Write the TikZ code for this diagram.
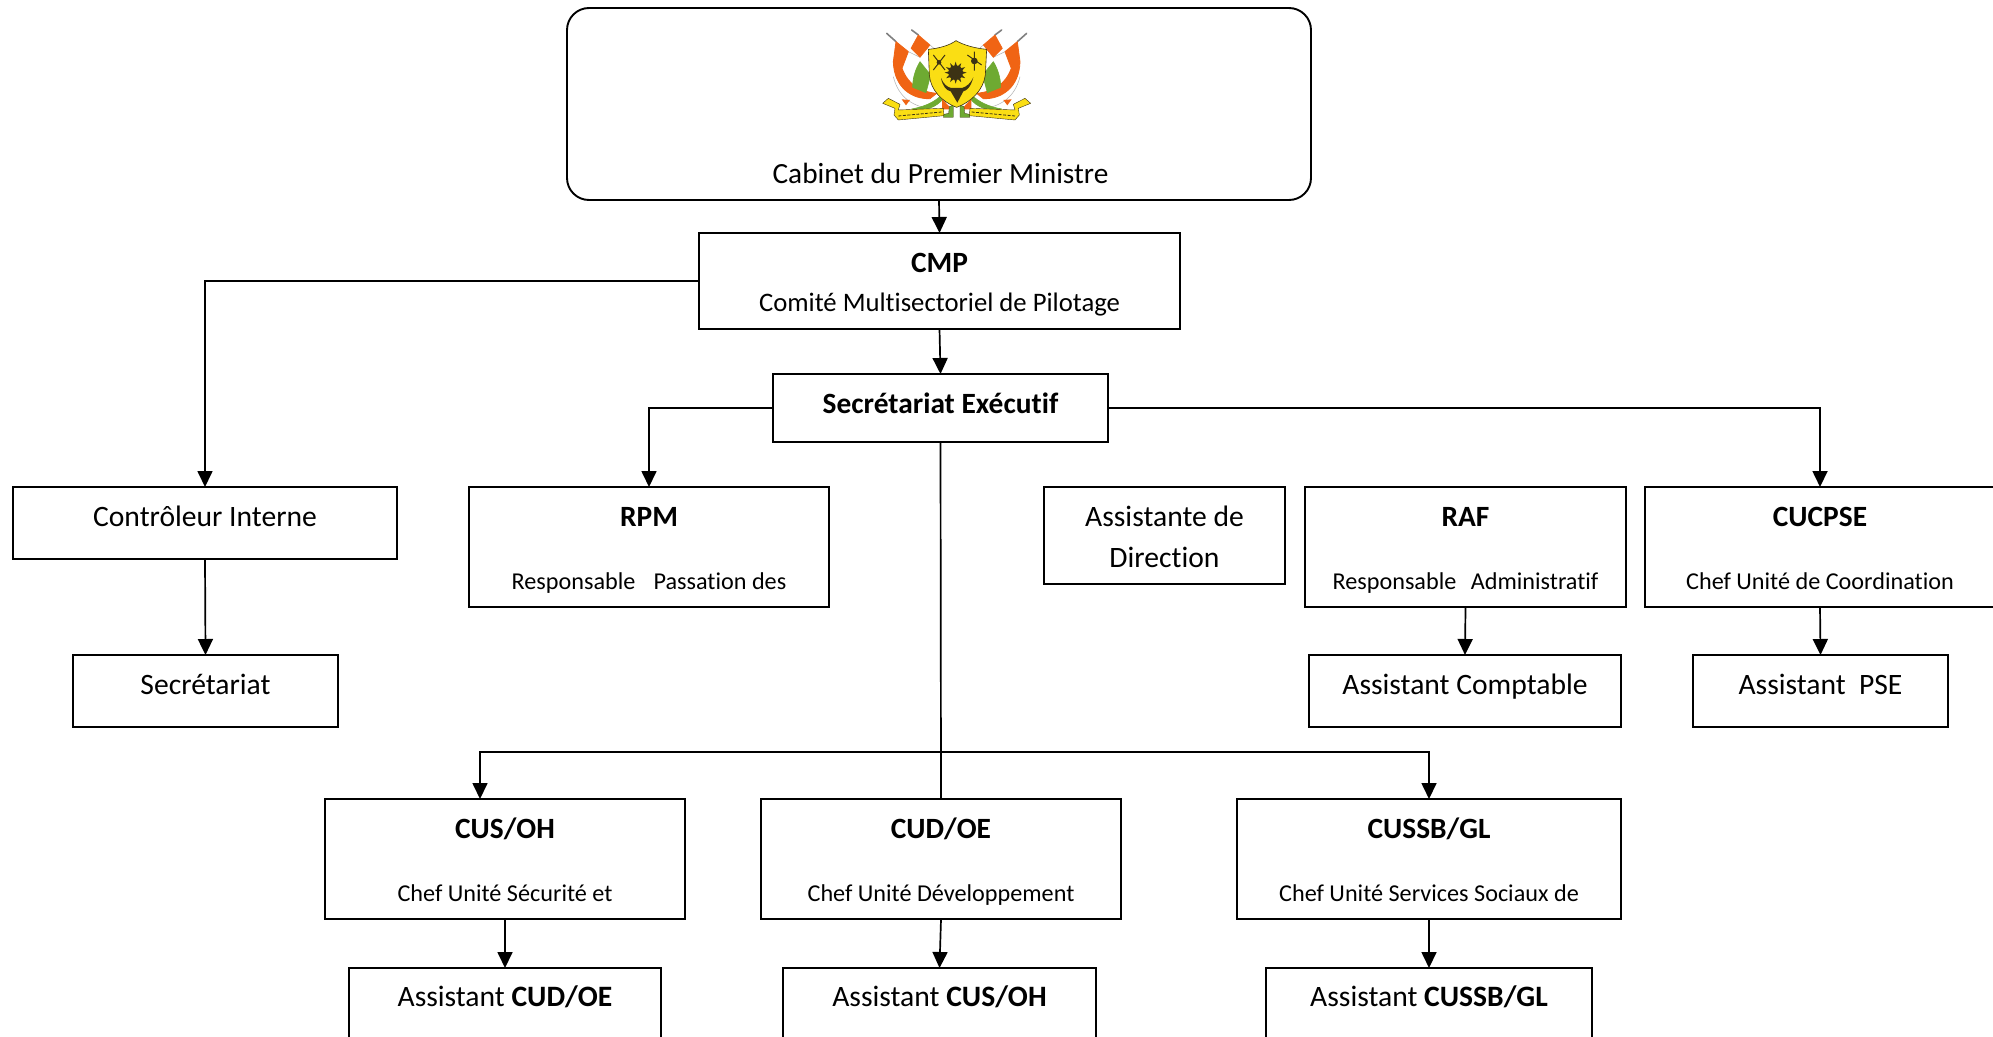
\documentclass[tikz,border=0pt]{standalone}
\usepackage{fontspec}
\setmainfont{Carlito}[Ligatures=NoCommon]
\usetikzlibrary{arrows.meta}
\newcommand\bx[3]{\vbox to #2pt{\hsize=#1pt\parindent=0pt #3\vfil}}
\newcommand\tl[2]{\nointerlineskip\vskip #1pt\nointerlineskip\hbox to\hsize{\hss\smash{#2}\hss}}
\newcommand\bigf{\fontsize{29.6}{30}\selectfont}
\newcommand\sma{\fontsize{24.2}{24}\selectfont}
\newcommand\med{\fontsize{26.7}{27}\selectfont}
\newcommand\tit{\fontsize{29.4}{30}\selectfont\bfseries}
\tikzset{
 boxn/.style={draw=black,line width=1.9pt,inner sep=0pt,outer sep=0pt,anchor=north west,fill=white,rectangle},
 arr/.style={draw=black,line width=1.7pt,-{Triangle[length=16pt,width=15pt]}},
 lin/.style={draw=black,line width=1.7pt},
}
\begin{document}
\begin{tikzpicture}[x=1pt,y=-1pt]
\useasboundingbox (0,0) rectangle (1993,1036);
\fill[white] (0,0) rectangle (1993,1036);
% boxes
\node[boxn,rounded corners=22pt] (cab) at (567,8) {\bx{744}{192}{\fontsize{29.3}{30}\selectfont\tl{175}{\hspace{3pt}Cabinet du Premier Ministre}}};
\node[boxn] (cmp) at (699,233) {\bx{481}{96}{\tit\tl{39}{CMP}\med\mdseries\tl{39}{Comité Multisectoriel de Pilotage}}};
\node[boxn] (se) at (773,374) {\bx{335}{68}{\tit\tl{39}{Secrétariat Exécutif}}};
\node[boxn] (ctrl) at (13,487) {\bx{384}{72}{\bigf\tl{39}{Contrôleur Interne}}};
\node[boxn] (sec) at (73,655) {\bx{265}{72}{\bigf\tl{39}{Secrétariat}}};
\node[boxn] (rpm) at (469,487) {\bx{360}{120}{\tit\tl{39}{RPM}\sma\mdseries\tl{63}{Responsable\hspace{0.75em}Passation des}}};
\node[boxn] (asd) at (1044,487) {\bx{241}{97}{\bigf\tl{39}{Assistante de}\tl{41}{Direction}}};
\node[boxn] (raf) at (1305,487) {\bx{321}{120}{\tit\tl{39}{RAF}\sma\mdseries\tl{63}{Responsable\hspace{0.6em}Administratif}}};
\node[boxn] (ucp) at (1645,487) {\bx{350}{120}{\tit\tl{39}{CUCPSE}\sma\mdseries\tl{63}{Chef Unité de Coordination}}};
\node[boxn] (ac) at (1309,655) {\bx{312}{72}{\bigf\tl{39}{Assistant Comptable}}};
\node[boxn] (pse) at (1693,655) {\bx{255}{72}{\bigf\tl{39}{Assistant\hspace{0.45em}PSE}}};
\node[boxn] (cus) at (325,799) {\bx{360}{120}{\tit\tl{39}{CUS/OH}\sma\mdseries\tl{63}{Chef Unité Sécurité et}}};
\node[boxn] (cud) at (761,799) {\bx{360}{120}{\tit\tl{39}{CUD/OE}\sma\mdseries\tl{63}{Chef Unité Développement}}};
\node[boxn] (cub) at (1237,799) {\bx{384}{120}{\tit\tl{39}{CUSSB/GL}\sma\mdseries\tl{63}{Chef Unité Services Sociaux de}}};
\node[boxn] (a1) at (349,968) {\bx{312}{100}{\bigf\tl{38}{Assistant \textbf{CUD/OE}}}};
\node[boxn] (a2) at (783,968) {\bx{313}{100}{\bigf\tl{38}{Assistant \textbf{CUS/OH}}}};
\node[boxn] (a3) at (1266,968) {\bx{326}{100}{\bigf\tl{38}{Assistant \textbf{CUSSB/GL}}}};
% connectors
\draw[arr] (cab.south) -- (cmp.north);
\draw[arr] (cmp.south) -- (se.north);
\draw[arr] (cmp.west) -| (ctrl.north);
\draw[arr] (se.west) -| (rpm.north);
\draw[arr] (se.east) -| (ucp.north);
\draw[arr] (ctrl.south) -- (sec.north);
\draw[arr] (raf.south) -- (ac.north);
\draw[arr] (ucp.south) -- (pse.north);
\draw[lin] (se.south) -- (cud.north);
\coordinate (bus) at (941,752);
\coordinate (cusin) at (480,799);
\draw[arr] (bus) -| (cusin);
\draw[arr] (bus) -| (cub.north);
\draw[arr] (cus.south) -- (a1.north);
\draw[arr] (cud.south) -- (a2.north);
\draw[arr] (cub.south) -- (a3.north);
% coat of arms
\begin{scope}[shift={(840pt,0pt)},x=0.3333pt,y=-0.3333pt,line join=round]
\definecolor{cor}{RGB}{240,100,20}
\definecolor{cgr}{RGB}{110,170,50}
\definecolor{cye}{RGB}{250,222,20}
\definecolor{cdk}{RGB}{60,50,20}
\foreach \s/\o in {1/0,-1/-700}{
 \begin{scope}[xscale=\s,shift={(\o,0)}]
 \draw[gray,line width=1.6pt,line cap=round] (140,100) -- (168,125) (215,90) -- (235,105);
 \draw[gray!60,line width=0.5pt] (205,155) -- (240,172) (270,135) -- (285,148) (160,230) .. controls (175,290) and (215,325) .. (300,330);
 \fill[cor,draw=cor,line width=0.8pt] (168,125) -- (205,155) -- (186,205) .. controls (205,255) and (240,275) .. (290,280) -- (270,296) .. controls (215,298) and (162,262) .. (160,185) -- cycle;
 \fill[cor,draw=cor,line width=0.6pt] (235,105) -- (270,135) -- (240,172) -- (213,145) -- cycle;
 \fill[cgr,draw=cgr,line width=0.6pt] (240,185) -- (272,225) -- (258,278) -- (218,262) .. controls (218,230) and (228,205) .. (240,185) -- cycle;
 \fill[cgr,draw=cgr,line width=0.6pt] (215,327) .. controls (255,320) and (285,305) .. (305,285) -- (308,298) .. controls (290,320) and (260,332) .. (225,332) -- cycle;
 \fill[cor] (306,296) -- (330,322) -- (328,328) -- (306,328) -- cycle;
 \fill[cor] (185,298) -- (210,300) -- (198,316) -- cycle;
 \fill[cye,draw=cdk,line width=0.4pt] (128,310) -- (145,295) -- (180,313) -- (175,330) -- (310,325) -- (312,347) -- (175,360) -- (162,345) -- (165,325) -- cycle;
 \draw[cdk,line width=0.8pt,dash pattern=on 3pt off 1.5pt] (175,348) -- (305,336);
 \fill[cgr,draw=cdk,line width=0.3pt] (340,315) -- (340,352) -- (310,352) -- (312,343) -- (326,340) -- (328,320) -- cycle;
 \end{scope}}
\fill[cye,draw=cdk,line width=0.6pt] (265,148) .. controls (300,145) and (330,135) .. (348,122) .. controls (370,135) and (405,145) .. (440,148) -- (436,225) .. controls (430,270) and (395,305) .. (350,322) .. controls (305,305) and (272,270) .. (268,225) -- cycle;
\fill[cdk] (347,218) circle (22);
\foreach \a in {0,30,...,330}{\fill[cdk,shift={(347,218)}] (\a-12:20) -- (\a:33) -- (\a+12:20) -- cycle;}
\fill[cdk] (303,234) .. controls (310,252) and (322,262) .. (334,264) -- (366,264) .. controls (380,260) and (392,250) .. (400,232) .. controls (392,262) and (380,272) .. (370,274) -- (352,308) -- (332,274) .. controls (320,272) and (308,260) .. (303,234) -- cycle;
\draw[cdk,line width=1pt] (280,165) -- (315,210) (315,165) -- (280,210);
\fill[cdk] (297,187) circle (7);
\draw[cdk,line width=1pt] (382,165) -- (425,195) (403,155) -- (403,212);
\fill[cdk] (403,183) circle (10);
\end{scope}
\end{tikzpicture}
\end{document}
